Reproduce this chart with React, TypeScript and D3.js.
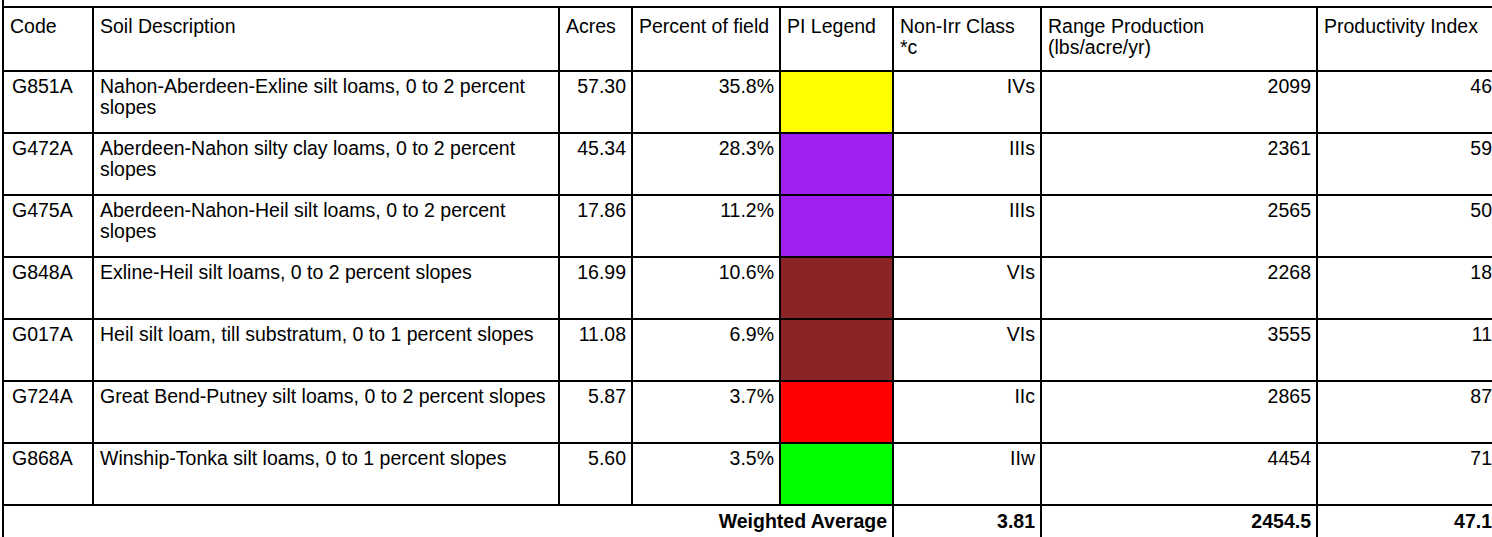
import { useEffect, useRef } from 'react'
import * as d3 from 'd3'

const HEADERS = [
  ['Code'],
  ['Soil Description'],
  ['Acres'],
  ['Percent of field'],
  ['PI Legend'],
  ['Non-Irr Class', '*c'],
  ['Range Production', '(lbs/acre/yr)'],
  ['Productivity Index'],
]

const CODES = ['G851A', 'G472A', 'G475A', 'G848A', 'G017A', 'G724A', 'G868A']
const DESCRIPTIONS = [
  'Nahon-Aberdeen-Exline silt loams, 0 to 2 percent\nslopes',
  'Aberdeen-Nahon silty clay loams, 0 to 2 percent\nslopes',
  'Aberdeen-Nahon-Heil silt loams, 0 to 2 percent\nslopes',
  'Exline-Heil silt loams, 0 to 2 percent slopes',
  'Heil silt loam, till substratum, 0 to 1 percent slopes',
  'Great Bend-Putney silt loams, 0 to 2 percent slopes',
  'Winship-Tonka silt loams, 0 to 1 percent slopes',
]
const ACRES = ['57.30', '45.34', '17.86', '16.99', '11.08', '5.87', '5.60']
const PERCENTS = ['35.8%', '28.3%', '11.2%', '10.6%', '6.9%', '3.7%', '3.5%']
const LEGEND_COLORS = ['#ffff00', '#a020f0', '#a020f0', '#8b2525', '#8b2525', '#ff0000', '#00ff00']
const CLASSES = ['IVs', 'IIIs', 'IIIs', 'VIs', 'VIs', 'IIc', 'IIw']
const RANGE_PROD = [2099, 2361, 2565, 2268, 3555, 2865, 4454]
const PI_VALUES = [46, 59, 50, 18, 11, 87, 71]

const TOTAL_LABEL = 'Weighted Average'
const TOTALS = ['3.81', '2454.5', '47.1']

// layout
const W = 1492
const H = 537
const COL_EDGES = [3, 93, 559, 632, 780, 893, 1041, 1317, 1498]
const TOP = 7
const HEADER_BOTTOM = 71
const ROWS_BOTTOM = 505
const FONT = '"Liberation Sans", Arial, Helvetica, sans-serif'
const FS = 19.5
const LH = 21

export default function App() {
  const svgRef = useRef<SVGSVGElement>(null)

  useEffect(() => {
    if (!svgRef.current) return
    const svg = d3.select(svgRef.current)
    svg.selectAll('*').remove()

    const y = d3.scaleBand<string>().domain(CODES).range([HEADER_BOTTOM, ROWS_BOTTOM])
    const colX = (i: number) => COL_EDGES[i]

    svg.append('rect').attr('width', W).attr('height', H).attr('fill', '#fff')

    // legend fills
    CODES.forEach((c, i) => {
      svg.append('rect')
        .attr('x', colX(4)).attr('y', y(c)!)
        .attr('width', colX(5) - colX(4)).attr('height', y.bandwidth())
        .attr('fill', LEGEND_COLORS[i])
    })

    const text = (x: number, yy: number, s: string, anchor = 'start', bold = false) =>
      svg.append('text').attr('x', x).attr('y', yy)
        .attr('text-anchor', anchor)
        .attr('font-family', FONT).attr('font-size', FS)
        .attr('font-weight', bold ? 'bold' : 'normal')
        .attr('fill', '#000').text(s)

    // header
    HEADERS.forEach((lines, i) => {
      lines.forEach((l, k) => text(colX(i) + 7, TOP + 26 + k * LH, l))
    })

    // rows
    CODES.forEach((c, i) => {
      const top = y(c)! + 22
      text(colX(0) + 9, top, c)
      DESCRIPTIONS[i].split('\n').forEach((l, k) => text(colX(1) + 7, top + k * LH, l))
      text(colX(3) - 6, top, ACRES[i], 'end')
      text(colX(4) - 6, top, PERCENTS[i], 'end')
      text(colX(6) - 6, top, CLASSES[i], 'end')
      text(colX(7) - 6, top, String(RANGE_PROD[i]), 'end')
      text(colX(8) - 6, top, String(PI_VALUES[i]), 'end')
    })

    // totals
    const tBase = ROWS_BOTTOM + 23
    text(colX(5) - 6, tBase, TOTAL_LABEL, 'end', true)
    TOTALS.forEach((v, k) => text(colX(6 + k) - 6, tBase, v, 'end', true))

    // grid lines
    const line = (x1: number, y1: number, x2: number, y2: number) =>
      svg.append('line').attr('x1', x1).attr('y1', y1).attr('x2', x2).attr('y2', y2)
        .attr('stroke', '#000').attr('stroke-width', 2)

    const hLines = [TOP, HEADER_BOTTOM, ...CODES.map(c => y(c)!), ROWS_BOTTOM]
    hLines.forEach(yy => line(colX(0) - 1, yy, W + 10, yy))

    // left border runs off the top and bottom
    line(colX(0), 0, colX(0), H)
    COL_EDGES.slice(1).forEach((x, i) => {
      const reachesTotals = i + 1 >= 5
      line(x, TOP, x, reachesTotals ? H : ROWS_BOTTOM)
    })
  }, [])

  return (
    <div style={{ position: 'fixed', left: 0, top: 0 }}>
      <svg ref={svgRef} width={W} height={H} style={{ display: 'block' }} />
    </div>
  )
}
